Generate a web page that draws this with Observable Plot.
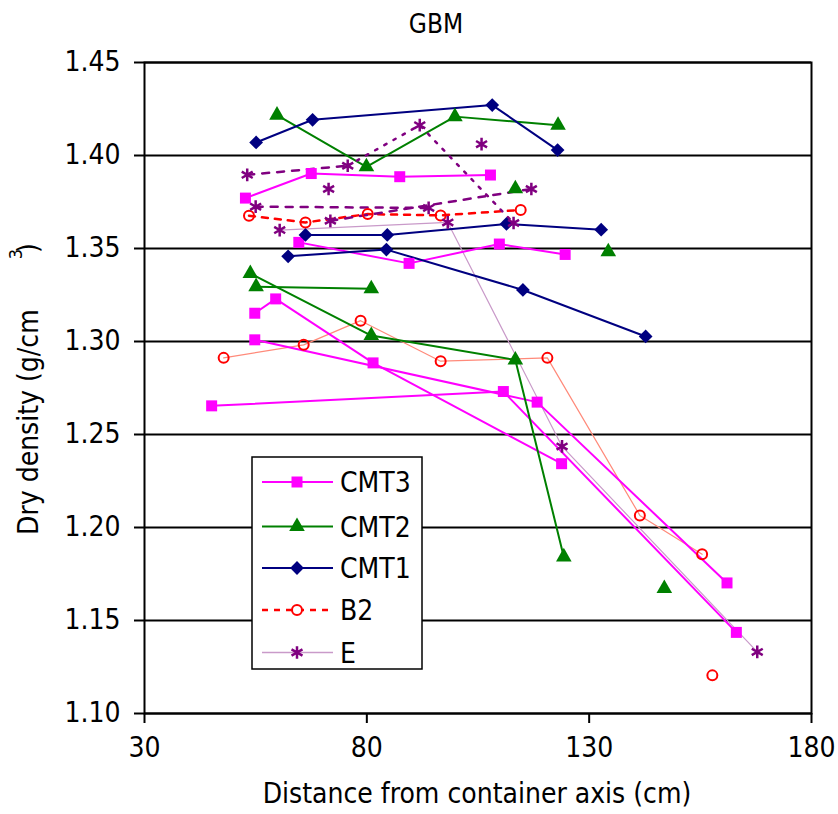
<!DOCTYPE html>
<html><head><meta charset="utf-8">
<script src="https://cdn.jsdelivr.net/npm/d3@7"></script>
<script src="https://cdn.jsdelivr.net/npm/@observablehq/plot@0.6"></script>
<style>
body{margin:0;background:#fff;}
#wrap{position:relative;width:838px;height:814px;}
</style></head><body><div id="wrap"></div>
<script>
// ---- data (cm, g/cm3, line group; null = unconnected point) ----
const xTicks = [30, 80, 130, 180];
const yTicks = [1.10, 1.15, 1.20, 1.25, 1.30, 1.35, 1.40, 1.45];
const seriesNames = ["CMT3", "CMT2", "CMT1", "B2", "E"];

const cmt3 = [
  {x:52.7,y:1.3771,g:"a"},{x:67.5,y:1.3903,g:"a"},{x:87.4,y:1.3886,g:"a"},{x:107.8,y:1.3895,g:"a"},
  {x:64.7,y:1.3533,g:"b"},{x:89.5,y:1.3420,g:"b"},{x:109.8,y:1.3524,g:"b"},{x:124.6,y:1.3468,g:"b"},
  {x:54.8,y:1.3152,g:"c"},{x:59.5,y:1.3229,g:"c"},{x:81.4,y:1.2885,g:"c"},{x:123.8,y:1.2343,g:"c"},
  {x:54.8,y:1.3009,g:"d"},{x:118.3,y:1.2674,g:"d"},{x:161.0,y:1.1702,g:"d"},
  {x:45.1,y:1.2654,g:"e"},{x:110.7,y:1.2731,g:"e"},{x:163.1,y:1.1436,g:"e"}
];
const cmt2 = [
  {x:59.8,y:1.4217,g:"a"},{x:79.9,y:1.3939,g:"a"},{x:99.8,y:1.4209,g:"a"},{x:123.0,y:1.4163,g:"a"},
  {x:55.1,y:1.3295,g:"b"},{x:81.0,y:1.3283,g:"b"},
  {x:53.8,y:1.3365,g:"c"},{x:81.0,y:1.3032,g:"c"},{x:113.4,y:1.2901,g:"c"},{x:124.3,y:1.1842,g:"c"},
  {x:113.4,y:1.3821,g:null},{x:134.3,y:1.3483,g:null},{x:146.9,y:1.1672,g:null}
];
const cmt1 = [
  {x:55.1,y:1.4070,g:"a"},{x:67.8,y:1.4192,g:"a"},{x:108.2,y:1.4271,g:"a"},{x:122.9,y:1.4029,g:"a"},
  {x:66.2,y:1.3573,g:"b"},{x:84.6,y:1.3573,g:"b"},{x:111.4,y:1.3632,g:"b"},{x:132.7,y:1.3601,g:"b"},
  {x:62.3,y:1.3458,g:"c"},{x:84.4,y:1.3494,g:"c"},{x:115.1,y:1.3277,g:"c"},{x:142.7,y:1.3027,g:"c"}
];
const b2 = [
  {x:53.5,y:1.3676,g:"dash"},{x:66.2,y:1.3640,g:"dash"},{x:80.2,y:1.3685,g:"dash"},{x:96.6,y:1.3678,g:"dash"},{x:114.6,y:1.3707,g:"dash"},
  {x:47.8,y:1.2912,g:"thin"},{x:65.8,y:1.2982,g:"thin"},{x:78.6,y:1.3112,g:"thin"},{x:96.6,y:1.2894,g:"thin"},
  {x:120.6,y:1.2912,g:"thin"},{x:141.4,y:1.2065,g:"thin"},{x:155.4,y:1.1856,g:"thin"},
  {x:157.7,y:1.1205,g:null}
];
const eSeries = [
  {x:53.1,y:1.3896,g:"a"},{x:75.7,y:1.3945,g:"a"},
  {x:91.9,y:1.4163,g:"b"},{x:113.0,y:1.3637,g:"b"},
  {x:55.0,y:1.3725,g:"c"},{x:93.9,y:1.3718,g:"c"},
  {x:71.8,y:1.3649,g:"d"},{x:117.0,y:1.3820,g:"d"},
  {x:60.4,y:1.3599,g:"t"},{x:98.2,y:1.3640,g:"t"},{x:123.9,y:1.2436,g:"t"},{x:167.8,y:1.1331,g:"t"},
  {x:71.4,y:1.3820,g:null},{x:105.8,y:1.4061,g:null}
];

// ---- styles ----
const FONT = "'DejaVu Sans Condensed', 'Liberation Sans', Arial, sans-serif";
const FS = 28;
const C3 = "#ff00ff", C2 = "#008000", C1 = "#000080", CB = "#ff0000", CBthin = "#ff8a7a", CE = "#800080", CEthin = "#c99ac9";

const inG = (arr, g) => arr.filter(d => d.g === g);
const linked = arr => arr.filter(d => d.g !== null);
const eA = inG(eSeries, "a");
const eDotted = [eA[eA.length - 1], ...inG(eSeries, "b")];
const eDashed = eSeries.filter(d => d.g === "a" || d.g === "c" || d.g === "d");

const chart = Plot.plot({
  width: 838, height: 814,
  marginLeft: 144, marginRight: 27, marginTop: 62, marginBottom: 101,
  style: {fontFamily: FONT, background: "white", color: "black", overflow: "visible"},
  x: {domain: [30, 180]},
  y: {domain: [1.10, 1.45]},
  marks: [
    Plot.gridY(yTicks, {stroke: "black", strokeOpacity: 1, strokeWidth: 2}),
    Plot.frame({stroke: "black", strokeWidth: 2}),
    Plot.axisY({ticks: yTicks, tickSize: 10, tickPadding: 14, fontSize: FS, label: null,
      strokeWidth: 2, tickFormat: d => d.toFixed(2)}),
    Plot.axisX({ticks: xTicks, tickSize: 10, tickPadding: 14, fontSize: FS, label: null,
      strokeWidth: 2, tickFormat: d => String(d)}),

    Plot.line(inG(b2, "thin"), {x: "x", y: "y", stroke: CBthin, strokeWidth: 1.2}),
    Plot.line(inG(eSeries, "t"), {x: "x", y: "y", stroke: CEthin, strokeWidth: 1.2}),
    Plot.line(linked(cmt3), {x: "x", y: "y", z: "g", stroke: C3, strokeWidth: 2}),
    Plot.line(linked(cmt2), {x: "x", y: "y", z: "g", stroke: C2, strokeWidth: 2}),
    Plot.line(linked(cmt1), {x: "x", y: "y", z: "g", stroke: C1, strokeWidth: 2}),
    Plot.line(inG(b2, "dash"), {x: "x", y: "y", stroke: CB, strokeWidth: 2.5, strokeDasharray: "6,7"}),
    Plot.line(eDashed, {x: "x", y: "y", z: "g", stroke: CE, strokeWidth: 2.5, strokeDasharray: "7,8"}),
    Plot.line(eDotted, {x: "x", y: "y", stroke: CE, strokeWidth: 2.5, strokeDasharray: "2.5,8"}),

    Plot.dot(cmt3, {x: "x", y: "y", symbol: "square", r: 6.2, fill: C3, stroke: "none"}),
    Plot.dot(cmt2, {x: "x", y: "y", symbol: "triangle", r: 5.8, fill: C2, stroke: "none"}),
    Plot.dot(cmt1, {x: "x", y: "y", symbol: "diamond2", r: 6.2, fill: C1, stroke: "none"}),
    Plot.dot(b2, {x: "x", y: "y", symbol: "circle", r: 5, fill: "none", stroke: CB, strokeWidth: 2}),
    Plot.dot(eSeries, {x: "x", y: "y", symbol: "asterisk", r: 6, stroke: CE, strokeWidth: 2.5})
  ]
});

document.getElementById("wrap").appendChild(chart);
const svg = d3.select(chart);

svg.append("text").attr("x", 436).attr("y", 33).attr("text-anchor", "middle")
  .attr("font-family", FONT).attr("font-size", 26).attr("fill", "black").text("GBM");
svg.append("text").attr("x", 477).attr("y", 803).attr("text-anchor", "middle")
  .attr("font-family", FONT).attr("font-size", FS).attr("fill", "black").text("Distance from container axis (cm)");
const yt = svg.append("text").attr("transform", "translate(38,535) rotate(-90)")
  .attr("text-anchor", "start").attr("font-family", FONT).attr("font-size", FS).attr("fill", "black");
yt.append("tspan").text("Dry density (g/cm");
yt.append("tspan").attr("dx", 50).attr("dy", -16).attr("font-size", 18).text("3");
yt.append("tspan").attr("dx", -4).attr("dy", 16).text(")");

// legend
const lg = svg.append("g");
lg.append("rect").attr("x", 252).attr("y", 457).attr("width", 170).attr("height", 212)
  .attr("fill", "white").attr("stroke", "black").attr("stroke-width", 1.5);
const rowY = [482, 526.5, 568, 610, 652.5];
const legendStyles = {
  CMT3: {line: C3, w: 2, dash: null, sym: d3.symbolSquare, r: 6.2, fill: C3, stroke: "none", sw: 0},
  CMT2: {line: C2, w: 2, dash: null, sym: d3.symbolTriangle, r: 5.8, fill: C2, stroke: "none", sw: 0},
  CMT1: {line: C1, w: 2, dash: null, sym: d3.symbolDiamond2, r: 6.2, fill: C1, stroke: "none", sw: 0},
  B2: {line: CB, w: 2.5, dash: "6,6", sym: d3.symbolCircle, r: 5, fill: "white", stroke: CB, sw: 2},
  E: {line: CEthin, w: 1.5, dash: null, sym: d3.symbolAsterisk, r: 6, fill: "none", stroke: CE, sw: 2.5}
};
seriesNames.forEach((name, i) => {
  const s = legendStyles[name], y = rowY[i];
  lg.append("line").attr("x1", 262).attr("x2", 333).attr("y1", y).attr("y2", y)
    .attr("stroke", s.line).attr("stroke-width", s.w).attr("stroke-dasharray", s.dash);
  lg.append("path").attr("transform", `translate(297,${y})`)
    .attr("d", d3.symbol(s.sym, Math.PI * s.r * s.r)())
    .attr("fill", s.fill).attr("stroke", s.stroke).attr("stroke-width", s.sw);
  lg.append("text").attr("x", 340).attr("y", y + 10).attr("text-anchor", "start")
    .attr("font-family", FONT).attr("font-size", FS).attr("fill", "black").text(name);
});
</script></body></html>
